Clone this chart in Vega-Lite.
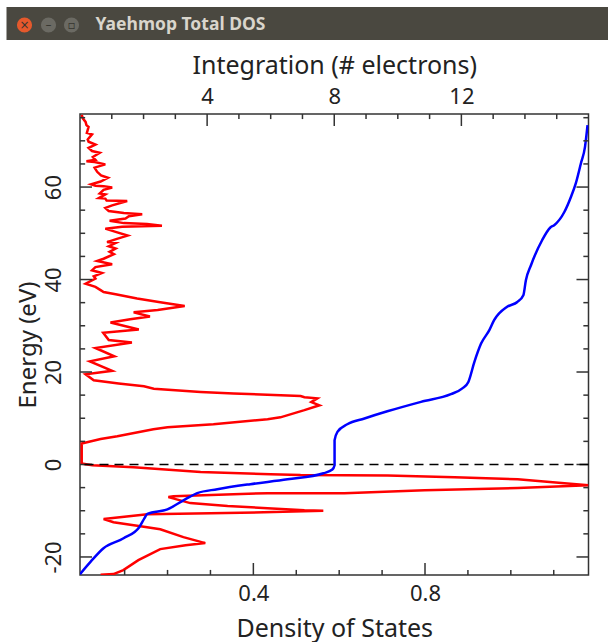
{
"$schema":"https://vega.github.io/schema/vega-lite/v6.json",
"padding":{"left":6,"top":7,"right":0,"bottom":4},
"background":"white",
"width":508.5,"height":461,
"view":{"stroke":"#333","strokeWidth":1.5},
"config":{"axis":{"grid":false,"domain":false,"ticks":false,"labelFont":"Noto Sans","titleFont":"Noto Sans","titleFontWeight":"normal","labelColor":"#222","titleColor":"#222"}},
"resolve":{"scale":{"x":"independent","y":"independent","color":"independent"},"axis":{"x":"independent","y":"independent"}},
"datasets":{
"dos":[{"dos":0.0,"e":75.6},{"dos":0.003,"e":74.8},{"dos":0.009,"e":74.1},{"dos":0.011,"e":73.4},{"dos":0.016,"e":73.0},{"dos":0.012,"e":71.7},{"dos":0.024,"e":71.4},{"dos":0.014,"e":70.3},{"dos":0.016,"e":69.8},{"dos":0.032,"e":69.2},{"dos":0.016,"e":68.5},{"dos":0.024,"e":67.8},{"dos":0.042,"e":67.4},{"dos":0.026,"e":66.5},{"dos":0.032,"e":65.9},{"dos":0.011,"e":65.6},{"dos":0.030,"e":65.4},{"dos":0.055,"e":64.9},{"dos":0.030,"e":64.2},{"dos":0.036,"e":63.3},{"dos":0.045,"e":62.5},{"dos":0.061,"e":62.0},{"dos":0.044,"e":61.2},{"dos":0.022,"e":60.6},{"dos":0.032,"e":60.3},{"dos":0.051,"e":60.2},{"dos":0.071,"e":59.9},{"dos":0.051,"e":59.4},{"dos":0.042,"e":58.6},{"dos":0.055,"e":58.4},{"dos":0.040,"e":57.6},{"dos":0.055,"e":57.5},{"dos":0.058,"e":57.1},{"dos":0.106,"e":57.0},{"dos":0.071,"e":56.05},{"dos":0.055,"e":55.5},{"dos":0.063,"e":54.8},{"dos":0.098,"e":54.4},{"dos":0.141,"e":54.1},{"dos":0.110,"e":53.7},{"dos":0.102,"e":53.2},{"dos":0.065,"e":52.7},{"dos":0.098,"e":52.2},{"dos":0.152,"e":52.0},{"dos":0.187,"e":51.65},{"dos":0.094,"e":51.4},{"dos":0.055,"e":51.0},{"dos":0.079,"e":50.3},{"dos":0.107,"e":49.5},{"dos":0.082,"e":48.8},{"dos":0.059,"e":48.1},{"dos":0.079,"e":47.9},{"dos":0.063,"e":47.2},{"dos":0.079,"e":46.7},{"dos":0.065,"e":46.0},{"dos":0.075,"e":45.5},{"dos":0.051,"e":44.5},{"dos":0.036,"e":44.0},{"dos":0.071,"e":43.3},{"dos":0.032,"e":42.7},{"dos":0.024,"e":42.0},{"dos":0.047,"e":41.4},{"dos":0.028,"e":40.7},{"dos":0.032,"e":40.2},{"dos":0.009,"e":39.1},{"dos":0.032,"e":38.4},{"dos":0.044,"e":37.7},{"dos":0.051,"e":37.3},{"dos":0.079,"e":36.8},{"dos":0.129,"e":35.9},{"dos":0.183,"e":35.1},{"dos":0.240,"e":34.3},{"dos":0.177,"e":33.4},{"dos":0.121,"e":32.9},{"dos":0.159,"e":32.0},{"dos":0.113,"e":31.4},{"dos":0.067,"e":30.7},{"dos":0.133,"e":29.2},{"dos":0.050,"e":28.5},{"dos":0.063,"e":26.9},{"dos":0.117,"e":26.4},{"dos":0.032,"e":25.2},{"dos":0.076,"e":23.4},{"dos":0.019,"e":22.3},{"dos":0.071,"e":20.25},{"dos":0.009,"e":19.5},{"dos":0.028,"e":18.2},{"dos":0.086,"e":17.5},{"dos":0.145,"e":16.9},{"dos":0.168,"e":16.4},{"dos":0.277,"e":15.7},{"dos":0.354,"e":15.35},{"dos":0.510,"e":14.8},{"dos":0.519,"e":14.55},{"dos":0.549,"e":14.3},{"dos":0.535,"e":13.5},{"dos":0.554,"e":12.8},{"dos":0.519,"e":11.75},{"dos":0.463,"e":10.2},{"dos":0.433,"e":9.8},{"dos":0.307,"e":8.7},{"dos":0.200,"e":8.05},{"dos":0.167,"e":7.6},{"dos":0.083,"e":6.1},{"dos":0.044,"e":5.5},{"dos":0.0,"e":4.55},{"dos":0.0,"e":0.2},{"dos":0.025,"e":-0.15},{"dos":0.121,"e":-0.6},{"dos":0.277,"e":-1.65},{"dos":0.440,"e":-2.1},{"dos":0.510,"e":-2.3},{"dos":0.713,"e":-2.4},{"dos":0.869,"e":-2.75},{"dos":1.016,"e":-3.2},{"dos":1.125,"e":-4.05},{"dos":1.181,"e":-4.5},{"dos":1.016,"e":-5.1},{"dos":0.799,"e":-5.55},{"dos":0.612,"e":-6.2},{"dos":0.433,"e":-6.2},{"dos":0.214,"e":-6.85},{"dos":0.202,"e":-7.05},{"dos":0.253,"e":-8.35},{"dos":0.340,"e":-9.0},{"dos":0.433,"e":-9.45},{"dos":0.519,"e":-9.9},{"dos":0.563,"e":-10.0},{"dos":0.447,"e":-10.3},{"dos":0.300,"e":-10.55},{"dos":0.153,"e":-10.75},{"dos":0.051,"e":-11.8},{"dos":0.074,"e":-12.5},{"dos":0.137,"e":-13.35},{"dos":0.183,"e":-14.0},{"dos":0.237,"e":-15.7},{"dos":0.288,"e":-17.0},{"dos":0.242,"e":-17.45},{"dos":0.183,"e":-18.3},{"dos":0.132,"e":-20.7},{"dos":0.097,"e":-22.85},{"dos":0.074,"e":-23.7},{"dos":0.044,"e":-23.85}],
"integ":[{"n":0.0,"e":-23.7},{"n":0.33,"e":-21.05},{"n":0.74,"e":-18.1},{"n":1.37,"e":-15.95},{"n":1.87,"e":-13.5},{"n":2.03,"e":-11.6},{"n":2.12,"e":-10.7},{"n":2.75,"e":-9.7},{"n":3.32,"e":-7.5},{"n":3.69,"e":-6.2},{"n":4.32,"e":-5.35},{"n":5.36,"e":-4.25},{"n":6.53,"e":-3.2},{"n":7.66,"e":-1.9},{"n":7.94,"e":-1.1},{"n":8.01,"e":-0.15},{"n":8.01,"e":5.25},{"n":8.1,"e":7.05},{"n":8.41,"e":8.7},{"n":8.95,"e":9.95},{"n":9.67,"e":11.5},{"n":10.73,"e":13.55},{"n":11.67,"e":15.2},{"n":12.03,"e":16.45},{"n":12.22,"e":17.85},{"n":12.41,"e":22.2},{"n":12.62,"e":26.15},{"n":12.88,"e":29.05},{"n":13.03,"e":31.2},{"n":13.44,"e":34.1},{"n":13.76,"e":35.15},{"n":13.95,"e":36.6},{"n":14.03,"e":39.85},{"n":14.19,"e":43.1},{"n":14.54,"e":48.5},{"n":14.8,"e":51.25},{"n":14.92,"e":51.75},{"n":15.24,"e":54.6},{"n":15.45,"e":57.9},{"n":15.6,"e":60.8},{"n":15.76,"e":65.1},{"n":15.89,"e":68.7},{"n":15.97,"e":73.4}],
"dosTicks":[
{"d":0.1,"d2":0.1,"e":-23.9,"e2":-22.8},{"d":0.2,"d2":0.2,"e":-23.9,"e2":-22.8},{"d":0.3,"d2":0.3,"e":-23.9,"e2":-22.8},{"d":0.4,"d2":0.4,"e":-23.9,"e2":-21.3},{"d":0.5,"d2":0.5,"e":-23.9,"e2":-22.8},{"d":0.6,"d2":0.6,"e":-23.9,"e2":-22.8},{"d":0.7,"d2":0.7,"e":-23.9,"e2":-22.8},{"d":0.8,"d2":0.8,"e":-23.9,"e2":-21.3},{"d":0.9,"d2":0.9,"e":-23.9,"e2":-22.8},{"d":1.0,"d2":1.0,"e":-23.9,"e2":-22.8},{"d":1.1,"d2":1.1,"e":-23.9,"e2":-22.8},
{"d":-0.004,"d2":0.024,"e":-20,"e2":-20},{"d":-0.004,"d2":0.008,"e":-15,"e2":-15},{"d":-0.004,"d2":0.008,"e":-10,"e2":-10},{"d":-0.004,"d2":0.008,"e":-5,"e2":-5},{"d":-0.004,"d2":0.024,"e":0,"e2":0},{"d":-0.004,"d2":0.008,"e":5,"e2":5},{"d":-0.004,"d2":0.008,"e":10,"e2":10},{"d":-0.004,"d2":0.008,"e":15,"e2":15},{"d":-0.004,"d2":0.024,"e":20,"e2":20},{"d":-0.004,"d2":0.008,"e":25,"e2":25},{"d":-0.004,"d2":0.008,"e":30,"e2":30},{"d":-0.004,"d2":0.008,"e":35,"e2":35},{"d":-0.004,"d2":0.024,"e":40,"e2":40},{"d":-0.004,"d2":0.008,"e":45,"e2":45},{"d":-0.004,"d2":0.008,"e":50,"e2":50},{"d":-0.004,"d2":0.008,"e":55,"e2":55},{"d":-0.004,"d2":0.024,"e":60,"e2":60},{"d":-0.004,"d2":0.008,"e":65,"e2":65},{"d":-0.004,"d2":0.008,"e":70,"e2":70},{"d":-0.004,"d2":0.008,"e":75,"e2":75},
{"d":1.181,"d2":1.153,"e":-20,"e2":-20},{"d":1.181,"d2":1.169,"e":-15,"e2":-15},{"d":1.181,"d2":1.169,"e":-10,"e2":-10},{"d":1.181,"d2":1.169,"e":-5,"e2":-5},{"d":1.181,"d2":1.153,"e":0,"e2":0},{"d":1.181,"d2":1.169,"e":5,"e2":5},{"d":1.181,"d2":1.169,"e":10,"e2":10},{"d":1.181,"d2":1.169,"e":15,"e2":15},{"d":1.181,"d2":1.153,"e":20,"e2":20},{"d":1.181,"d2":1.169,"e":25,"e2":25},{"d":1.181,"d2":1.169,"e":30,"e2":30},{"d":1.181,"d2":1.169,"e":35,"e2":35},{"d":1.181,"d2":1.153,"e":40,"e2":40},{"d":1.181,"d2":1.169,"e":45,"e2":45},{"d":1.181,"d2":1.169,"e":50,"e2":50},{"d":1.181,"d2":1.169,"e":55,"e2":55},{"d":1.181,"d2":1.153,"e":60,"e2":60},{"d":1.181,"d2":1.169,"e":65,"e2":65},{"d":1.181,"d2":1.169,"e":70,"e2":70},{"d":1.181,"d2":1.169,"e":75,"e2":75}],
"nTicks":[{"n":1,"e":75.8,"e2":74.7},{"n":2,"e":75.8,"e2":74.7},{"n":3,"e":75.8,"e2":74.7},{"n":4,"e":75.8,"e2":73.2},{"n":5,"e":75.8,"e2":74.7},{"n":6,"e":75.8,"e2":74.7},{"n":7,"e":75.8,"e2":74.7},{"n":8,"e":75.8,"e2":73.2},{"n":9,"e":75.8,"e2":74.7},{"n":10,"e":75.8,"e2":74.7},{"n":11,"e":75.8,"e2":74.7},{"n":12,"e":75.8,"e2":73.2},{"n":13,"e":75.8,"e2":74.7},{"n":14,"e":75.8,"e2":74.7},{"n":15,"e":75.8,"e2":74.7}]
},
"layer":[
  {"data":{"values":[{"a":6,"b":608,"c":7,"d":40}]},
   "mark":{"type":"rect","color":"#4a4840","clip":false},
   "encoding":{"x":{"field":"a","type":"quantitative","scale":{"domain":[79.5,588],"nice":false,"zero":false},"axis":null},"x2":{"field":"b"},
     "y":{"field":"c","type":"quantitative","scale":{"domain":[575,114],"nice":false,"zero":false},"axis":null},"y2":{"field":"d"}}},
  {"data":{"values":[{"a":24,"c":25,"fill":"close"},{"a":48,"c":25,"fill":"other"},{"a":71,"c":25,"fill":"other"}]},
   "mark":{"type":"point","filled":true,"size":230,"opacity":1},
   "encoding":{"x":{"field":"a","type":"quantitative","scale":{"domain":[79.5,588],"nice":false,"zero":false},"axis":null},
     "y":{"field":"c","type":"quantitative","scale":{"domain":[575,114],"nice":false,"zero":false},"axis":null},
     "color":{"field":"fill","type":"nominal","scale":{"domain":["close","other"],"range":["#e5592c","#6b6a63"]},"legend":null}}},
  {"data":{"values":[{"a":24,"c":25,"label":"×"},{"a":48,"c":25,"label":"–"},{"a":71,"c":25,"label":"▫"}]},
   "mark":{"type":"text","color":"#35352f","fontSize":12,"font":"DejaVu Sans"},
   "encoding":{"x":{"field":"a","type":"quantitative","scale":{"domain":[79.5,588],"nice":false,"zero":false},"axis":null},
     "y":{"field":"c","type":"quantitative","scale":{"domain":[575,114],"nice":false,"zero":false},"axis":null},
     "text":{"field":"label"}}},
  {"data":{"values":[{"a":95,"c":25,"label":"Yaehmop Total DOS"}]},
   "mark":{"type":"text","align":"left","color":"#d9d5cc","fontSize":17.5,"fontWeight":"bold","font":"Noto Sans"},
   "encoding":{"x":{"field":"a","type":"quantitative","scale":{"domain":[79.5,588],"nice":false,"zero":false},"axis":null},
     "y":{"field":"c","type":"quantitative","scale":{"domain":[575,114],"nice":false,"zero":false},"axis":null},
     "text":{"field":"label"}}},
  {"data":{"name":"dos"},
   "mark":{"type":"line","color":"#ff0000","strokeWidth":2.5,"clip":true},
   "encoding":{
    "x":{"field":"dos","type":"quantitative","scale":{"domain":[-0.004,1.181],"nice":false,"zero":false},
      "axis":{"orient":"bottom","title":"Density of States","titleFontSize":25,"titlePadding":12,"labelFontSize":22,"values":[0.4,0.8],"format":".1f","labelPadding":8}},
    "y":{"field":"e","type":"quantitative","scale":{"domain":[-23.9,75.8],"nice":false,"zero":false},
      "axis":{"orient":"left","title":"Energy (eV)","titleFontSize":24,"titlePadding":2.5,"labelFontSize":22,"labelAngle":-90,"labelAlign":"center","labelBaseline":"bottom","values":[-20,0,20,40,60],"labelPadding":14.5,"labelExpr":"replace(datum.label,'−','-')"}},
    "order":{"value":null}}},
  {"data":{"name":"integ"},
   "mark":{"type":"line","color":"#0000ff","strokeWidth":2.5,"clip":true,"interpolate":"monotone"},
   "encoding":{
    "x":{"field":"n","type":"quantitative","scale":{"domain":[0,16],"nice":false,"zero":false},
      "axis":{"orient":"top","title":"Integration (# electrons)","titleFontSize":25,"titlePadding":7,"labelFontSize":22,"values":[4,8,12],"labelPadding":6}},
    "y":{"field":"e","type":"quantitative","scale":{"domain":[-23.9,75.8],"nice":false,"zero":false},"axis":null},
    "order":{"value":null}}},
  {"data":{"name":"dosTicks"},
   "mark":{"type":"rule","color":"#333","strokeWidth":1.5},
   "encoding":{
    "x":{"field":"d","type":"quantitative","scale":{"domain":[-0.004,1.181],"nice":false,"zero":false},"axis":null},"x2":{"field":"d2"},
    "y":{"field":"e","type":"quantitative","scale":{"domain":[-23.9,75.8],"nice":false,"zero":false},"axis":null},"y2":{"field":"e2"}}},
  {"data":{"name":"nTicks"},
   "mark":{"type":"rule","color":"#333","strokeWidth":1.5},
   "encoding":{
    "x":{"field":"n","type":"quantitative","scale":{"domain":[0,16],"nice":false,"zero":false},"axis":null},
    "y":{"field":"e","type":"quantitative","scale":{"domain":[-23.9,75.8],"nice":false,"zero":false},"axis":null},"y2":{"field":"e2"}}},
  {"data":{"values":[{"e":0}]},
   "mark":{"type":"rule","color":"#000","strokeWidth":1.5,"strokeDash":[9,6]},
   "encoding":{"y":{"field":"e","type":"quantitative","scale":{"domain":[-23.9,75.8],"nice":false,"zero":false},"axis":null}}}
]}
